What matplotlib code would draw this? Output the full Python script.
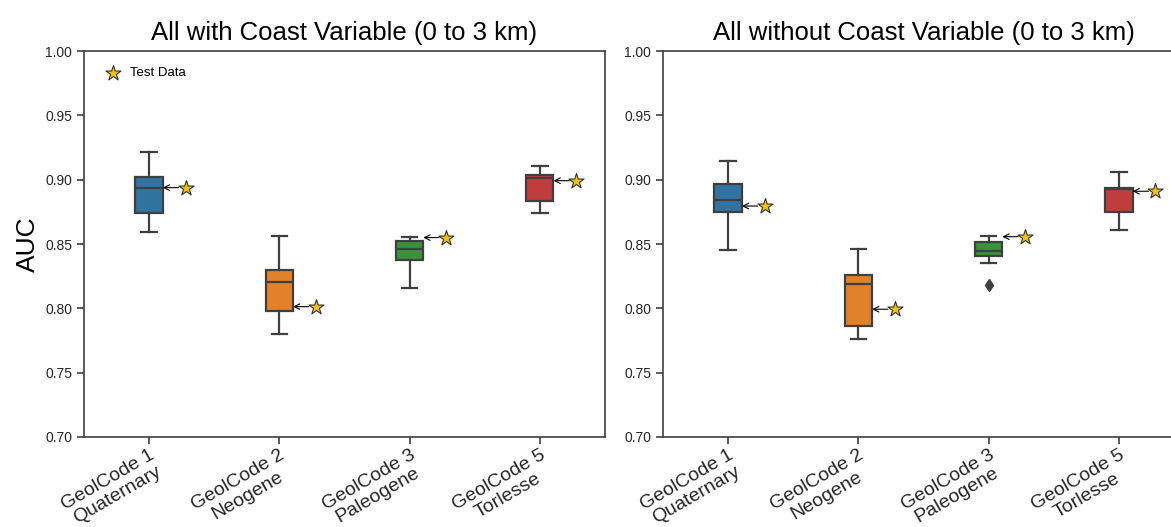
import matplotlib
matplotlib.use("Agg")
import matplotlib.pyplot as plt

plt.rcParams['font.family'] = ['Liberation Sans', 'DejaVu Sans']

categories = ["GeolCode 1\nQuaternary", "GeolCode 2\nNeogene", "GeolCode 3\nPaleogene", "GeolCode 5\nTorlesse"]
colors = ['#3274a1', '#e1812c', '#3a923a', '#c03d3e']

# with coast variable: whislo, q1, med, q3, whishi
with_whislo = [0.8596, 0.7804, 0.8160, 0.8739]
with_q1 = [0.8739, 0.7982, 0.8373, 0.8834]
with_med = [0.8938, 0.8204, 0.8460, 0.9010]
with_q3 = [0.9023, 0.8300, 0.8523, 0.9036]
with_whishi = [0.9217, 0.8560, 0.8552, 0.9109]
with_fliers = [[], [], [], []]
with_test = [0.8938, 0.8013, 0.8550, 0.8992]

# without coast variable
without_whislo = [0.8450, 0.7765, 0.8350, 0.8610]
without_q1 = [0.8750, 0.7860, 0.8404, 0.8746]
without_med = [0.8840, 0.8190, 0.8448, 0.8925]
without_q3 = [0.8970, 0.8260, 0.8513, 0.8935]
without_whishi = [0.9145, 0.8460, 0.8562, 0.9062]
without_fliers = [[], [], [0.818], []]
without_test = [0.8795, 0.7993, 0.8557, 0.8910]

titles = ["All with Coast Variable (0 to 3 km)", "All without Coast Variable (0 to 3 km)"]
yticks = [0.70, 0.75, 0.80, 0.85, 0.90, 0.95, 1.00]

EDGE = '#3f3f3f'
STAR = '#f7c00a'
BOX_W = 0.21
STAR_OFF = 0.28


def draw_panel(ax, whislo, q1, med, q3, whishi, fliers, test, title):
    stats = []
    for i in range(len(categories)):
        stats.append(dict(whislo=whislo[i], q1=q1[i], med=med[i], q3=q3[i],
                          whishi=whishi[i], fliers=fliers[i]))
    pos = list(range(len(categories)))
    bp = ax.bxp(stats, positions=pos, widths=BOX_W, patch_artist=True,
                capwidths=0.12,
                boxprops=dict(edgecolor=EDGE, linewidth=1.6),
                medianprops=dict(color=EDGE, linewidth=1.6),
                whiskerprops=dict(color=EDGE, linewidth=1.6),
                capprops=dict(color=EDGE, linewidth=1.6),
                flierprops=dict(marker='d', markerfacecolor=EDGE, markeredgecolor=EDGE,
                                markersize=6))
    for patch, c in zip(bp['boxes'], colors):
        patch.set_facecolor(c)

    for i, t in enumerate(test):
        ax.annotate('', xy=(i + BOX_W / 2, t), xytext=(i + STAR_OFF, t),
                    arrowprops=dict(arrowstyle='->', color='black', lw=0.8,
                                    shrinkA=5, shrinkB=0), zorder=4)
    sc = ax.scatter([i + STAR_OFF for i in pos], test, marker='*', s=130,
                    color=STAR, edgecolor='#333333', linewidth=0.8, zorder=5,
                    label='Test Data')

    ax.set_xlim(-0.5, len(categories) - 0.5)
    ax.set_ylim(0.70, 1.00)
    ax.set_yticks(yticks)
    ax.set_yticklabels(['%.2f' % v for v in yticks], fontsize=10)
    ax.set_xticks(pos)
    ax.set_xticklabels(categories, rotation=30, ha='right', va='top',
                       rotation_mode='anchor', fontsize=14,
                       multialignment='center', linespacing=1.05)
    ax.set_title(title, fontsize=18.5, pad=8)
    for s in ax.spines.values():
        s.set_color(EDGE)
        s.set_linewidth(1.2)
    ax.tick_params(colors=EDGE, labelcolor='#262626', length=5, width=1.2)
    ax.tick_params(axis='x', pad=2)
    return sc


fig = plt.figure(figsize=(11.71, 5.27), dpi=100)
ax1 = fig.add_axes([0.0717, 0.1708, 0.4449, 0.7324])
ax2 = fig.add_axes([0.5662, 0.1708, 0.4449, 0.7324])

draw_panel(ax1, with_whislo, with_q1, with_med, with_q3, with_whishi, with_fliers,
           with_test, titles[0])
draw_panel(ax2, without_whislo, without_q1, without_med, without_q3, without_whishi,
           without_fliers, without_test, titles[1])

ax1.set_ylabel('AUC', fontsize=19)
ax1.legend(loc='upper left', frameon=False, fontsize=9.5, handletextpad=0.3,
           borderaxespad=0.8)

fig.savefig('out.png', dpi=100)
